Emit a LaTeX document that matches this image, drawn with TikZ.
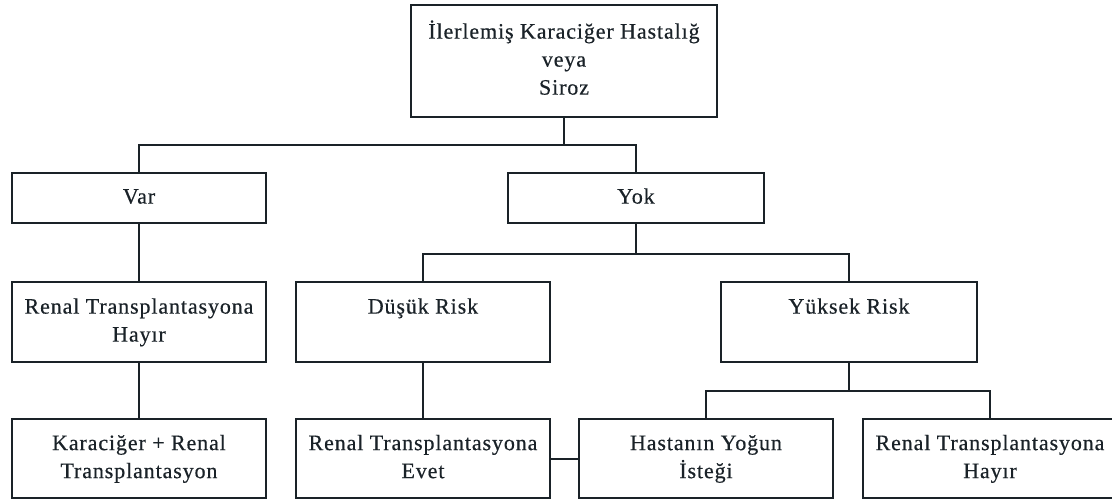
\documentclass[tikz,border=0pt]{standalone}
\usepackage{fontspec}
\newfontfamily\boxfont[LetterSpace=4,FakeBold=0.4]{Liberation Serif}
\definecolor{ink}{RGB}{26,34,40}
\begin{document}
\begin{tikzpicture}[x=0.75pt,y=-0.75pt,
  box/.style={draw=ink, line width=1.5pt, rectangle, inner sep=0pt, align=center,
    text=ink, font=\boxfont\fontsize{16.5pt}{21pt}\selectfont, minimum width=190.5pt},
  link/.style={draw=ink, line width=1.5pt}]
\useasboundingbox (0,0) rectangle (1112,502);
\clip (0,0) rectangle (1112,502);
\fill[white] (0,0) rectangle (1112,502);

\node[box, minimum width=229.5pt, minimum height=84pt] (top) at (564,61)
  {\strut İlerlemiş Karaciğer Hastalığ\\\strut veya\\\strut Siroz};

\node[box, minimum height=37.5pt] (var) at (139,198) {\strut Var};
\node[box, minimum width=192pt, minimum height=37.5pt] (yok) at (636,198) {\strut Yok};

\node[box, minimum height=60pt] (renalH) at (139,322) {\strut Renal Transplantasyona\\\strut Hayır};
\node[box, minimum width=190.5pt, minimum height=60pt] (dusuk) at (423,322) {\strut Düşük Risk\\\strut};
\node[box, minimum width=192pt, minimum height=60pt] (yuksek) at (849,322) {\strut Yüksek Risk\\\strut};

\node[box, minimum height=59.25pt] (kara) at (139,458.5) {\strut Karaciğer + Renal\\\strut Transplantasyon};
\node[box, minimum height=59.25pt] (evet) at (423,458.5) {\strut Renal Transplantasyona\\\strut Evet};
\node[box, minimum height=59.25pt] (hasta) at (706,458.5) {\strut Hastanın Yoğun\\\strut İsteği};
\node[box, minimum height=59.25pt] (hayir) at (990,458.5) {\strut Renal Transplantasyona\\\strut Hayır};

\coordinate (b1) at (0,145);
\coordinate (b2) at (0,254);
\coordinate (b3) at (0,391);

\draw[link] (top.south) -- (top.south |- b1);
\draw[link] (var.north) -- (var.north |- b1) -| (yok.north);

\draw[link] (yok.south) -- (yok.south |- b2);
\draw[link] (dusuk.north) -- (dusuk.north |- b2) -| (yuksek.north);

\draw[link] (var.south) -- (renalH.north);
\draw[link] (renalH.south) -- (kara.north);
\draw[link] (dusuk.south) -- (evet.north);

\draw[link] (yuksek.south) -- (yuksek.south |- b3);
\draw[link] (hasta.north) -- (hasta.north |- b3) -| (hayir.north);

\draw[link] (evet.east) -- (hasta.west);
\end{tikzpicture}
\end{document}
